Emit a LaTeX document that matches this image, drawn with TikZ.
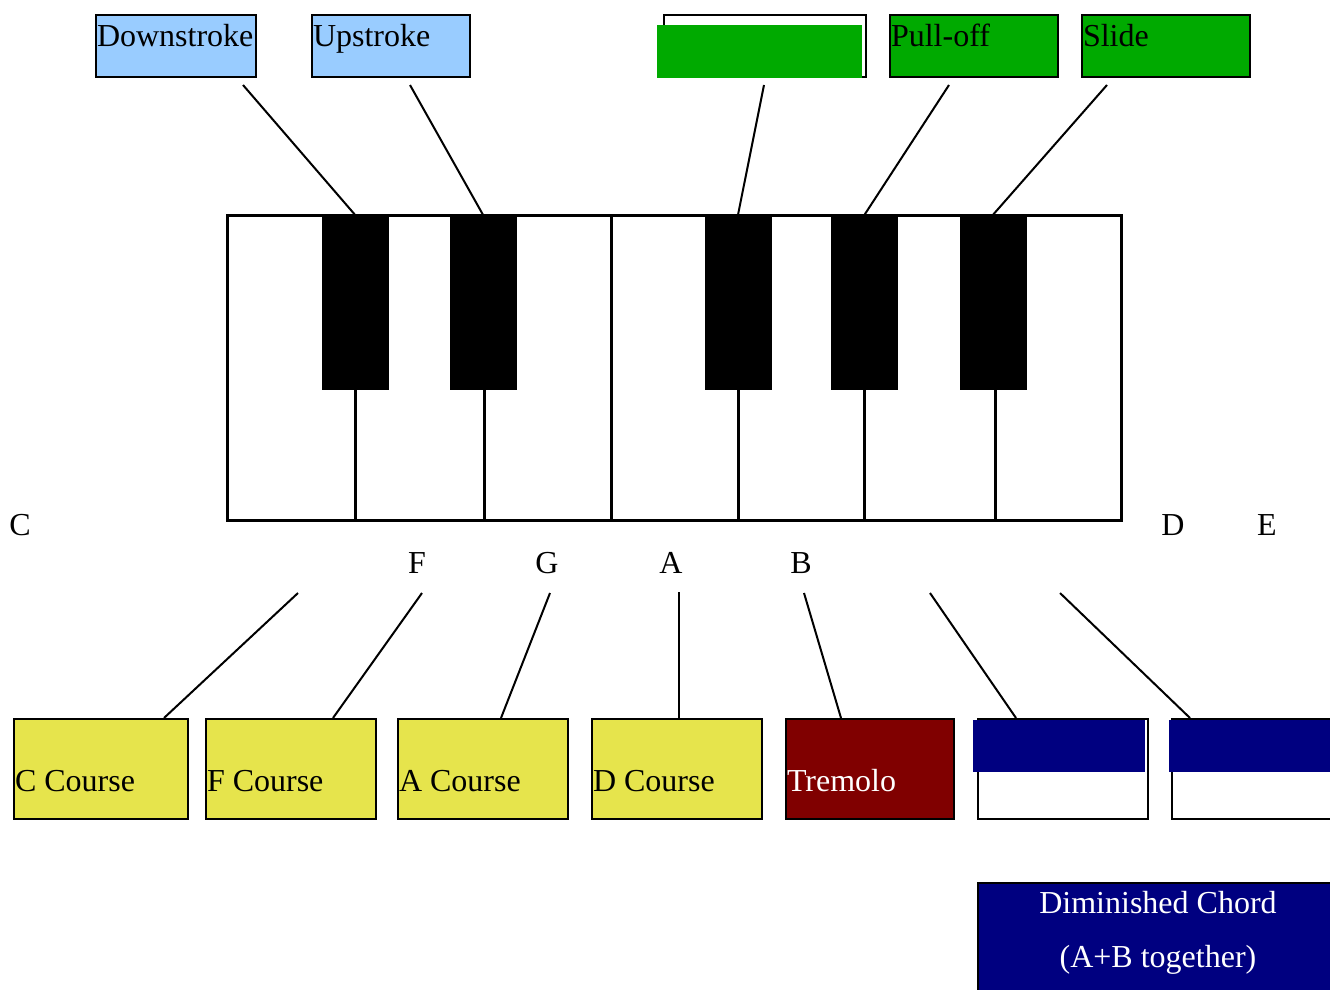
\documentclass[tikz,border=0pt]{standalone}
\usepackage{fontspec}
\setmainfont{Liberation Serif}
\definecolor{strokeblue}{RGB}{153,204,255}
\definecolor{techgreen}{RGB}{0,170,0}
\definecolor{courseyellow}{RGB}{230,228,76}
\definecolor{tremred}{RGB}{128,0,0}
\definecolor{chordnavy}{RGB}{0,0,128}

\begin{document}
\begin{tikzpicture}[x=1pt,y=-1pt]

\tikzstyle{every node}=[font=\fontsize{32}{38}\selectfont]
\tikzstyle{topbox}=[draw,line width=2pt,anchor=north west,minimum height=62pt,inner xsep=1pt,inner ysep=0pt,text height=22pt,text depth=20pt,align=flush left]
\tikzstyle{botbox}=[draw,line width=2pt,anchor=north west,minimum height=100pt,inner xsep=1pt,inner ysep=0pt,text height=50pt,text depth=6pt,align=flush left]
\tikzstyle{cover}=[anchor=north west,inner sep=0pt]
\tikzstyle{bkey}=[fill=black,minimum width=67pt,minimum height=175pt,inner sep=0pt]
\tikzstyle{keyline}=[line width=3pt]
\tikzstyle{conn}=[line width=2pt]

\useasboundingbox (0,0) rectangle (1330,990);

% technique boxes on top
\node[topbox,fill=strokeblue,minimum width=160pt,text width=158pt] (down) at (95,14) {Downstroke};
\node[topbox,fill=strokeblue,minimum width=158pt,text width=156pt] (up) at (311,14) {Upstroke};
\node[topbox,fill=white,minimum width=202pt,text width=200pt] (hammer) at (663,14) {};
\node[cover,fill=techgreen,minimum width=205pt,minimum height=53pt] (hammercover) at (657,25) {};
\node[topbox,fill=techgreen,minimum width=168pt,text width=166pt] (pull) at (889,14) {Pull-off};
\node[topbox,fill=techgreen,minimum width=168pt,text width=166pt] (slide) at (1081,14) {Slide};

% keyboard
\draw[keyline] (227,215) rectangle (1121,520);
\foreach \x in {355,484,738,864,995}
  \draw[keyline] (\x,390) -- (\x,520);
\draw[keyline] (611,215) -- (611,520);

\node[bkey] (bk1) at (355,302.5) {};
\node[bkey] (bk2) at (483,302.5) {};
\node[bkey] (bk3) at (738,302.5) {};
\node[bkey] (bk4) at (864.5,302.5) {};
\node[bkey] (bk5) at (993,302.5) {};

\coordinate (downfoot) at (243,85);
\coordinate (upfoot) at (410,85);
\coordinate (hammerfoot) at (764,85);
\coordinate (pullfoot) at (949,85);
\coordinate (slidefoot) at (1107,85);
\draw[conn] (downfoot) -- (bk1.north);
\draw[conn] (upfoot) -- (bk2.north);
\draw[conn] (hammerfoot) -- (bk3.north);
\draw[conn] (pullfoot) -- (bk4.north);
\draw[conn] (slidefoot) -- (bk5.north);

% note names
\node (notec) at (20,525) {C};
\node (noted) at (1173,525) {D};
\node (notee) at (1267,525) {E};
\node (notef) at (417,563) {F};
\node (noteg) at (547,563) {G};
\node (notea) at (671,563) {A};
\node (noteb) at (801,563) {B};

% course boxes below
\coordinate (cfoot) at (298,593);
\coordinate (ffoot) at (422,593);
\coordinate (afoot) at (550,593);
\coordinate (dfoot) at (679,592);
\coordinate (tremfoot) at (804,593);
\coordinate (bluefoota) at (930,593);
\coordinate (bluefootb) at (1060,593);

\node[botbox,fill=courseyellow,minimum width=174pt,text width=172pt] (ccourse) at (13,718) {C Course};
\node[botbox,fill=courseyellow,minimum width=170pt,text width=168pt] (fcourse) at (205,718) {F Course};
\node[botbox,fill=courseyellow,minimum width=170pt,text width=168pt] (acourse) at (397,718) {A Course};
\node[botbox,fill=courseyellow,minimum width=170pt,text width=168pt] (dcourse) at (591,718) {D Course};
\node[botbox,fill=tremred,text=white,minimum width=168pt,text width=166pt] (tremolo) at (785,718) {Tremolo};
\node[botbox,fill=white,minimum width=170pt,text width=168pt] (bluea) at (977,718) {};
\node[botbox,fill=white,minimum width=174pt,text width=172pt] (blueb) at (1171,718) {};
\node[cover,fill=chordnavy,minimum width=172pt,minimum height=52pt] (blueacover) at (973,720) {};
\node[cover,fill=chordnavy,minimum width=176pt,minimum height=52pt] (bluebcover) at (1169,720) {};

\draw[conn] (cfoot) -- ([xshift=151pt]ccourse.north west);
\draw[conn] (ffoot) -- ([xshift=128pt]fcourse.north west);
\draw[conn] (afoot) -- ([xshift=104pt]acourse.north west);
\draw[conn] (dfoot) -- ([xshift=88pt]dcourse.north west);
\draw[conn] (tremfoot) -- ([xshift=56pt]tremolo.north west);
\draw[conn] (bluefoota) -- ([xshift=39pt]bluea.north west);
\draw[conn] (bluefootb) -- ([xshift=19pt]blueb.north west);

% chord box
\node[cover,draw,line width=2pt,fill=chordnavy,minimum width=362pt,minimum height=115pt] (dimbox) at (977,882) {};
\node[text=white,align=center,font=\fontsize{32}{54}\selectfont] (dimtext) at (1158,933) {Diminished Chord\\(A+B together)};

\end{tikzpicture}
\end{document}
